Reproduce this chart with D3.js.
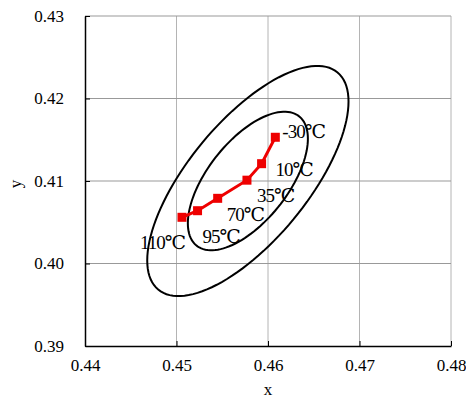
<!DOCTYPE html>
<html>
    <head>
        <script src="https://d3js.org/d3.v7.min.js"></script>
        <style>
            body { margin: 0; background: #fff; }
        </style>
    </head>
    <body>
        <svg height='399' width='466'></svg>

        <script>
            // data
            const temps = ['-30℃', '10℃', '35℃', '70℃', '95℃', '110℃'];
            const xValues = [0.4608, 0.4593, 0.4577, 0.4545, 0.4523, 0.4506];
            const yValues = [0.4153, 0.4121, 0.4101, 0.4079, 0.4064, 0.4056];

            // confidence ellipses: centre, half extents, correlation
            const ellipseCenter = [0.4578, 0.4100];
            const ellipseSx = [0.01100, 0.00656];
            const ellipseSy = [0.01395, 0.00840];
            const ellipseRho = [0.69, 0.61];

            const xTicks = [0.44, 0.45, 0.46, 0.47, 0.48];
            const yTicks = [0.39, 0.40, 0.41, 0.42, 0.43];

            // label offsets from each point, px
            const labelDx = [7, 14, 10, 9, 5, -42];
            const labelDy = [1, 12, 22, 23, 32, 32];

            const serif = '"Liberation Serif", "DejaVu Serif", serif';
            const svg = d3.select('svg');
            const plotLeft = 85, plotRight = 451, plotTop = 16, plotBottom = 346;

            const x = d3.scaleLinear().domain([0.44, 0.48]).range([plotLeft, plotRight]);
            const y = d3.scaleLinear().domain([0.39, 0.43]).range([plotBottom, plotTop]);

            // grid
            svg.append('g').selectAll('line').data(xTicks.slice(1))
                .enter().append('line')
                .attr('x1', d => x(d)).attr('x2', d => x(d))
                .attr('y1', plotTop).attr('y2', plotBottom)
                .attr('stroke', '#b4b4b4').attr('stroke-width', 1);
            svg.append('g').selectAll('line').data(yTicks.slice(1))
                .enter().append('line')
                .attr('x1', plotLeft).attr('x2', plotRight)
                .attr('y1', d => y(d)).attr('y2', d => y(d))
                .attr('stroke', '#999').attr('stroke-width', 1);

            // axes
            const xAxis = d3.axisBottom(x).tickValues(xTicks)
                .tickFormat(d3.format('.2f')).tickSizeInner(-5).tickSizeOuter(0).tickPadding(13);
            const yAxis = d3.axisLeft(y).tickValues(yTicks)
                .tickFormat(d3.format('.2f')).tickSizeInner(-5).tickSizeOuter(0).tickPadding(21);

            const gx = svg.append('g').attr('transform', `translate(0,${plotBottom})`).call(xAxis);
            const gy = svg.append('g').attr('transform', `translate(${plotLeft},0)`).call(yAxis);
            [gx, gy].forEach(g => {
                g.attr('font-family', serif).attr('font-size', 17);
                g.select('.domain').attr('stroke', '#000').attr('stroke-width', 1.5);
                g.selectAll('.tick line').attr('stroke', '#000');
                g.selectAll('.tick text').attr('fill', '#000');
            });

            svg.append('text').attr('x', 268).attr('y', 395).attr('text-anchor', 'middle')
                .attr('font-family', serif).attr('font-size', 17).text('x');
            svg.append('text').attr('transform', 'translate(21,184) rotate(-90)')
                .attr('text-anchor', 'middle')
                .attr('font-family', serif).attr('font-size', 17).text('y');

            // ellipses
            const angles = d3.range(0, 361, 3).map(a => a * Math.PI / 180);
            const line = d3.line().x(d => x(d[0])).y(d => y(d[1]));
            ellipseSx.forEach((sx, i) => {
                const sy = ellipseSy[i], rho = ellipseRho[i];
                const pts = angles.map(t => [
                    ellipseCenter[0] + sx * Math.cos(t),
                    ellipseCenter[1] + sy * (rho * Math.cos(t) + Math.sqrt(1 - rho * rho) * Math.sin(t))
                ]);
                svg.append('path').attr('d', line.curve(d3.curveLinearClosed)(pts))
                    .attr('fill', 'none').attr('stroke', '#000').attr('stroke-width', 2);
            });

            // temperature track
            const pts = xValues.map((d, i) => [d, yValues[i]]);
            svg.append('path').attr('d', d3.line().x(d => x(d[0])).y(d => y(d[1]))(pts))
                .attr('fill', 'none').attr('stroke', '#ee0000').attr('stroke-width', 3);
            svg.append('g').selectAll('rect').data(pts)
                .enter().append('rect')
                .attr('x', d => x(d[0]) - 4.5).attr('y', d => y(d[1]) - 4.5)
                .attr('width', 9).attr('height', 9)
                .attr('fill', '#ee0000');

            svg.append('g').selectAll('text').data(pts)
                .enter().append('text')
                .attr('x', (d, i) => x(d[0]) + labelDx[i])
                .attr('y', (d, i) => y(d[1]) + labelDy[i])
                .attr('font-family', serif).attr('font-size', 19)
                .style('letter-spacing', '-1px')
                .text((d, i) => temps[i]);
        </script>
    </body>
</html>
